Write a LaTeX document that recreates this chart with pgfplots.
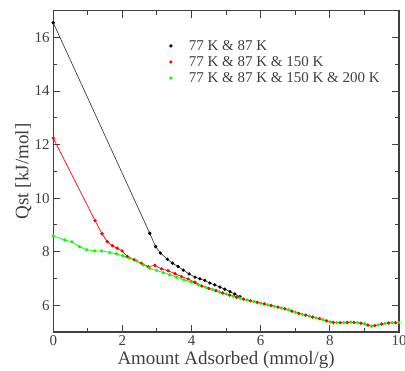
\documentclass[border=0pt]{standalone}
\usepackage{fontspec}
\setmainfont{Liberation Serif}
\usepackage{pgfplots}
\pgfplotsset{compat=1.18}
\definecolor{qred}{HTML}{FF0000}
\definecolor{qgreen}{HTML}{00FF00}
\definecolor{axgray}{HTML}{404040}
\begin{document}
\begin{tikzpicture}
\begin{axis}[
  scale only axis,
  width=346pt, height=321.6pt,
  xmin=0, xmax=10, ymin=5, ymax=17,
  xtick={0,2,...,10}, ytick={6,8,...,16},
  minor xtick={1,3,5,7,9}, minor ytick={7,9,11,13,15},
  tick align=inside,
  major tick length=7pt, minor tick length=4pt,
  axis line style={axgray, line width=1.2pt},
  every tick/.style={axgray, line width=1pt},
  /pgf/number format/assume math mode=true,
  ticklabel style={font=\fontsize{15}{16}\selectfont, text=axgray},
  xlabel={Amount Adsorbed (mmol/g)},
  ylabel={Qst [kJ/mol]},
  every axis x label/.style={at={(axis description cs:0.5,0)}, anchor=center, yshift=-28pt, font=\fontsize{19}{20}\selectfont, text=axgray},
  every axis y label/.style={at={(axis description cs:0,0.5)}, xshift=-30pt, rotate=90, anchor=center, font=\fontsize{19}{20}\selectfont, text=axgray},
  legend style={draw=none, fill=none, at={(axis description cs:0.331,0.915)}, anchor=north west,
    font=\fontsize{15}{16}\selectfont, row sep=0.6pt, inner sep=0pt, text=axgray},
  legend cell align=left,
  legend image code/.code={\path[draw=none] (0pt,0pt) -- (19pt,0pt); \draw[#1] plot coordinates {(3pt,0pt)};},
  every axis plot/.append style={line width=0.7pt, mark=*, mark size=1.3pt},
]
\addplot[color=black!75, mark options={fill=black, draw=black}] coordinates {
(0,16.55) (2.79,8.69) (2.96,8.19) (3.10,7.95) (3.30,7.72) (3.45,7.57) (3.61,7.45)
(3.76,7.31) (3.93,7.17) (4.10,7.05) (4.24,6.99) (4.38,6.93) (4.53,6.83) (4.67,6.76)
(4.82,6.68) (4.96,6.60) (5.11,6.51) (5.25,6.42) (5.40,6.32)
};
\addlegendentry{77 K \& 87 K}
\addplot[color=qred, mark options={fill=qred, draw=qred}] coordinates {
(0,12.24) (1.21,9.16) (1.41,8.67) (1.56,8.38) (1.71,8.22) (1.85,8.13) (1.99,8.03)
(2.14,7.82) (2.34,7.70) (2.55,7.57) (2.75,7.44) (2.94,7.49) (3.13,7.36) (3.32,7.29)
(3.52,7.18) (3.71,7.07) (3.90,6.98) (4.10,6.86) (4.30,6.72) (4.50,6.63) (4.70,6.55)
(4.90,6.46) (5.10,6.38) (5.30,6.30) (5.50,6.23) (5.70,6.17) (5.90,6.11) (6.10,6.05)
(6.30,5.99) (6.50,5.93) (6.70,5.87) (6.90,5.78) (7.10,5.70) (7.30,5.63) (7.50,5.56)
(7.70,5.50) (7.90,5.42) (8.10,5.36) (8.30,5.35) (8.50,5.36) (8.70,5.36) (8.90,5.33)
(9.10,5.26) (9.30,5.24) (9.50,5.30) (9.70,5.34) (9.90,5.35)
};
\addlegendentry{77 K \& 87 K \& 150 K}
\addplot[color=qgreen, mark options={fill=qgreen, draw=qgreen}] coordinates {
(0,8.59) (0.33,8.44) (0.54,8.37) (0.76,8.19) (0.97,8.07) (1.20,8.03) (1.40,8.03)
(1.63,7.97) (1.82,7.92) (2.01,7.85) (2.20,7.77) (2.41,7.66) (2.60,7.51) (2.79,7.39)
(2.99,7.30) (3.18,7.22) (3.37,7.14) (3.57,7.05) (3.78,6.95) (3.98,6.87) (4.20,6.76)
(4.40,6.67) (4.60,6.59) (4.80,6.50) (5.00,6.42) (5.20,6.34) (5.40,6.27) (5.60,6.20)
(5.80,6.14) (6.00,6.08) (6.20,6.02) (6.40,5.96) (6.60,5.90) (6.80,5.83) (7.00,5.74)
(7.20,5.66) (7.40,5.60) (7.60,5.53) (7.80,5.46) (8.00,5.38) (8.20,5.35) (8.40,5.35)
(8.60,5.37) (8.80,5.35) (9.00,5.31) (9.20,5.22) (9.40,5.27) (9.60,5.32) (9.80,5.35)
(10.00,5.35)
};
\addlegendentry{77 K \& 87 K \& 150 K \& 200 K}
\end{axis}
\pgfresetboundingbox
\useasboundingbox ([shift={(-53.3pt,-38.7pt)}]current axis.south west) rectangle ([shift={(6pt,10.7pt)}]current axis.north east);
\end{tikzpicture}
\end{document}
